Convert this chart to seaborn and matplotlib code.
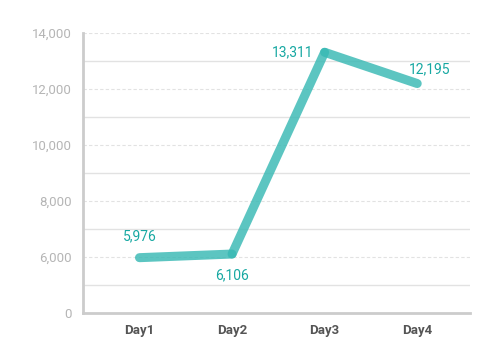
import numpy as np
import pandas as pd
import matplotlib
matplotlib.use("Agg")
import matplotlib.pyplot as plt
import seaborn as sns

days = ["Day1", "Day2", "Day3", "Day4"]
visits = [5976, 6106, 13311, 12195]
ytick_vals = [4000, 6000, 8000, 10000, 12000, 14000]
ytick_labels = ["0", "6,000", "8,000", "10,000", "12,000", "14,000"]

sns.set_theme(style="white")
plt.rcParams["font.family"] = ["Roboto", "DejaVu Sans"]

df = pd.DataFrame({"day": days, "visits": visits})
df["pos"] = np.arange(len(days))

fig = plt.figure(figsize=(4.9, 3.6), dpi=100)
ax = fig.add_axes([83 / 490, 47 / 360, 387 / 490, 280 / 360])

line_col = "#38b9b4"
# draw each segment so the joints overlap like the original
for i in range(len(df) - 1):
    seg = df.iloc[i:i + 2]
    sns.lineplot(data=seg, x="pos", y="visits", ax=ax, color=line_col,
                 linewidth=6.5, alpha=0.82, solid_capstyle="round", legend=False)

ax.set_xlim(-0.61, 3.57)
ax.set_ylim(4000, 14000)
ax.set_xticks(df["pos"])
ax.set_xticklabels(days, fontsize=9.5, fontweight="bold", color="#555555")
ax.set_yticks(ytick_vals)
ax.set_yticklabels(ytick_labels, fontsize=9.5, color="#b5b5b5")
ax.set_xlabel("")
ax.set_ylabel("")

for v in ytick_vals[1:]:
    ax.axhline(v, color="#e2e2e2", lw=0.8, ls=(0, (3, 2)), zorder=0)
for v in range(5000, 14000, 2000):
    ax.axhline(v, color="#e2e2e2", lw=1, zorder=0)

for s in ["top", "right"]:
    ax.spines[s].set_visible(False)
for s in ["left", "bottom"]:
    ax.spines[s].set_color("#cccccc")
    ax.spines[s].set_linewidth(2)
ax.tick_params(axis="both", length=0, pad=8)

lab_col = "#17a8a2"
offsets = [(0, 10, "center", "bottom"), (0, -10, "center", "top"),
           (-8, 0, "right", "center"), (9, 5, "center", "bottom")]
for x, y, (dx, dy, ha, va) in zip(df["pos"], visits, offsets):
    ax.annotate(f"{y:,}", (x, y), xytext=(dx, dy), textcoords="offset points",
                ha=ha, va=va, fontsize=10, color=lab_col)

fig.savefig("out.png", dpi=100)
